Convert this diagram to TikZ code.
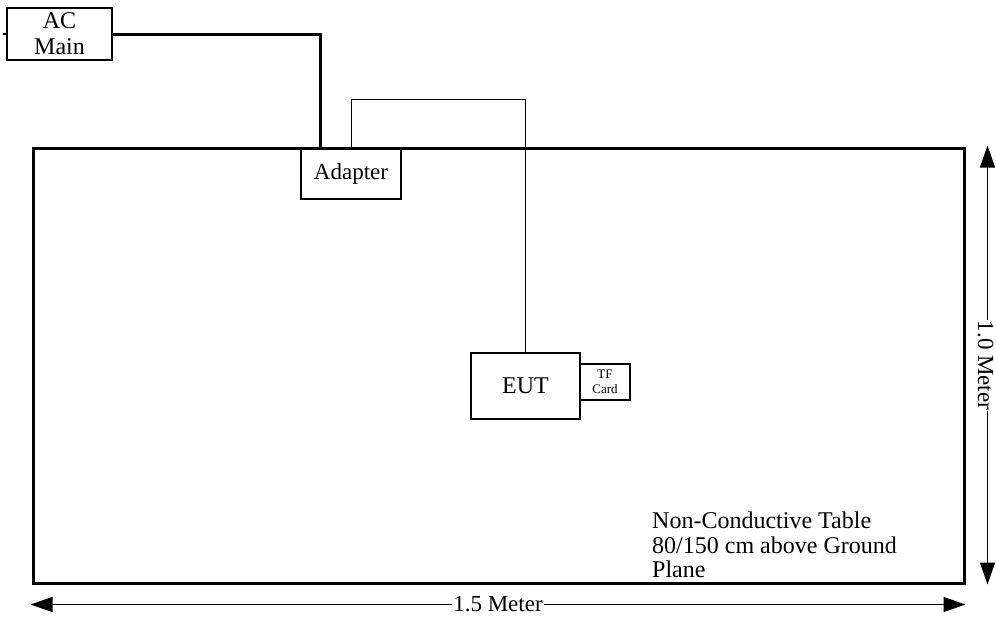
\documentclass[tikz,border=0pt]{standalone}
\usepackage{fontspec}
\setmainfont{Liberation Serif}
\usetikzlibrary{arrows.meta,positioning}
\tikzset{>={Triangle[length=22pt,width=15pt]}}
\tikzset{
  unit/.style = {draw, fill=white, line width=1.3pt, inner sep=0pt, align=center,
                 font=\fontsize{24}{26}\selectfont},
  mains/.style = {line width=3pt},
  signal/.style = {line width=0.8pt},
  measure/.style = {<->, line width=1.2pt},
  dimlabel/.style = {fill=white, inner xsep=1pt, inner ysep=0pt, font=\fontsize{23}{23}\selectfont}
}

\begin{document}
\begin{tikzpicture}[x=1pt,y=-1pt]
  \useasboundingbox (0,0) rectangle (996,619);
  % table
  \node[draw, line width=3pt, minimum width=931pt, minimum height=435pt, inner sep=0pt]
    (tbl) at (498.5,365.5) {};
  \node[anchor=north west, align=left, inner sep=0pt,
        font=\fontsize{24}{24.5}\selectfont] (note) at (652,512)
    {Non-Conductive Table\\80/150 cm above Ground\\Plane};
  % units
  \node[unit, minimum width=105pt, minimum height=52pt] (acmain) at (59.5,34) {AC\\Main};
  \node[unit, minimum width=100pt, minimum height=50pt, font=\fontsize{23}{26}\selectfont]
    (adapter) at (351,174) {Adapter};
  \node[unit, minimum width=109pt, minimum height=66pt] (eut) at (525.5,386) {EUT};
  \node[unit, minimum width=50pt, minimum height=36pt, font=\fontsize{13}{15}\selectfont]
    (tfcard) at (605,382) {TF\\Card};
  % cables
  \draw[line width=1.3pt] (acmain.west) -- ++(-3,0);
  \draw[mains] (acmain.east) -| ([xshift=20pt]adapter.north west);
  \draw[signal] (adapter.north) -- ++(0,-49) -| (eut.north);
  % dimensions
  \draw[measure] ([xshift=22pt,yshift=1pt]tbl.north east) -- ([xshift=22pt]tbl.south east);
  \node[dimlabel, rotate=-90] (height) at ([xshift=20pt]tbl.east) {1.0 Meter};
  \draw[measure] ([xshift=-1pt,yshift=-20pt]tbl.south west) -- ([yshift=-20pt]tbl.south east)
    node[midway, dimlabel] (width) {1.5 Meter};
\end{tikzpicture}
\end{document}
